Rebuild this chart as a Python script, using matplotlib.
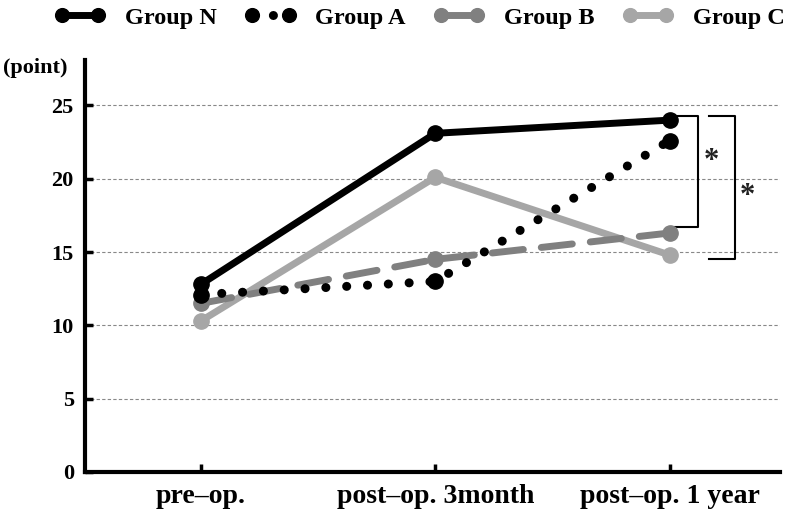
import matplotlib
matplotlib.use("Agg")
import matplotlib.pyplot as plt

# values
timepoints = ["pre\u2013op.", "post\u2013op. 3month", "post\u2013op. 1 year"]
group_n = [12.8, 23.1, 24.0]
group_a = [12.1, 13.0, 22.6]
group_b = [11.5, 14.5, 16.3]
group_c = [10.3, 20.1, 14.8]
yticks = [0, 5, 10, 15, 20, 25]

plt.rcParams["font.family"] = ["Liberation Serif", "DejaVu Serif"]
plt.rcParams["font.weight"] = "bold"

fig = plt.figure(figsize=(7.86, 5.13), dpi=100)
ax = fig.add_axes([0.108, 0.080, 0.884, 0.803])

x = list(range(len(timepoints)))

ax.plot(x, group_n, color="black", lw=5, marker="o", ms=11,
        solid_capstyle="round", label="Group N", zorder=5)
ax.plot(x, group_a, color="black", lw=6.5, linestyle=(0, (0.01, 2.3)),
        dash_capstyle="round", marker="o", ms=11, label="Group A", zorder=4)
ax.plot(x, group_b, color="#808080", lw=5, linestyle=(0, (4.5, 2.6)),
        dash_capstyle="round", marker="o", ms=11, label="Group B", zorder=3)
ax.plot(x, group_c, color="#a6a6a6", lw=5, marker="o", ms=11,
        solid_capstyle="round", label="Group C", zorder=2)

ax.set_xlim(-0.495, 2.47)
ax.set_ylim(0, 28.1)
ax.set_xticks(x)
ax.set_xticklabels(timepoints, fontsize=20, fontweight="bold")
ax.set_yticks(yticks)
ax.set_yticklabels([str(v) for v in yticks], fontsize=16, fontweight="bold")
ax.tick_params(axis="both", direction="in", length=6, width=2.5, pad=8)
ax.tick_params(axis="x", pad=9)

for s in ["top", "right"]:
    ax.spines[s].set_visible(False)
for s in ["left", "bottom"]:
    ax.spines[s].set_linewidth(3)

for v in yticks[1:]:
    ax.axhline(v, color="#888888", lw=0.8, ls=(0, (3, 2)), zorder=0)

# significance brackets
ax.plot([2.02, 2.12, 2.12, 2.02], [24.3, 24.3, 16.7, 16.7], color="black", lw=1.5, clip_on=False)
ax.plot([2.17, 2.28, 2.28, 2.17], [24.3, 24.3, 14.5, 14.5], color="black", lw=1.5, clip_on=False)
ax.text(2.18, 21.2, "*", fontsize=22, ha="center", va="center", color="#222222")
ax.text(2.33, 18.8, "*", fontsize=22, ha="center", va="center", color="#222222")

fig.text(0.004, 0.868, "(point)", fontsize=16, fontweight="bold", ha="left", va="center")

fig.legend(loc="center", bbox_to_anchor=(0.534, 0.965), ncol=4, frameon=False,
           numpoints=2, handlelength=2.1, handletextpad=0.8, markerscale=0.9,
           columnspacing=1.15, prop={"weight": "bold", "size": 17.5})

fig.savefig("out.png", dpi=100)
